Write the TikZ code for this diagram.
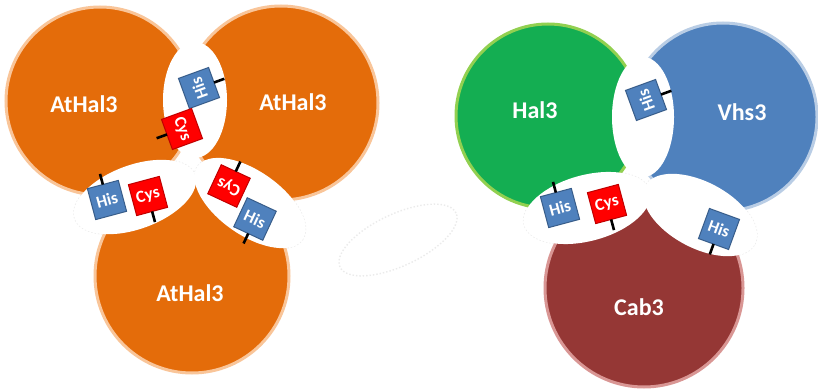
\documentclass[tikz,border=0pt]{standalone}
\usepackage{fontspec}
\setmainfont{Carlito}
\definecolor{orangefill}{HTML}{E46C0A}
\definecolor{orangeline}{HTML}{F9C599}
\definecolor{greenfill}{HTML}{14AE52}
\definecolor{greenline}{HTML}{92D050}
\definecolor{bluefill}{HTML}{4F81BD}
\definecolor{blueline}{HTML}{B9CDE5}
\definecolor{redfill}{HTML}{953735}
\definecolor{redline}{HTML}{D99694}
\definecolor{hisline}{HTML}{385D8A}
\definecolor{cysfill}{HTML}{FF0000}
\definecolor{cysline}{HTML}{C00000}
\tikzset{
  subunit/.style={line width=3pt},
  pocket/.style={fill=white, draw=none},
  pocketrim/.style={draw=black!8, dotted, line width=1.4pt},
  unitlabel/.style={text=white, font=\fontsize{24}{24}\selectfont\bfseries},
  resbox/.style={minimum size=32pt, inner sep=0pt, line width=1pt,
    text=white, font=\fontsize{17}{17}\selectfont\bfseries},
  hisbox/.style={resbox, fill=bluefill, draw=hisline},
  cysbox/.style={resbox, fill=cysfill, draw=cysline},
  stub/.style={line width=2.6pt, black}
}
\begin{document}
\begin{tikzpicture}[x=1pt, y=1pt]
\useasboundingbox[fill=white] (0,0) rectangle (818,388);

% faint rims of the pockets, seen only where they leave the subunits
\draw[pocketrim] (135,191) ellipse[x radius=64, y radius=32, rotate=20];
\draw[pocketrim] (250,185) ellipse[x radius=64, y radius=32, rotate=-35];
\draw[pocketrim] (587,180) ellipse[x radius=65, y radius=33, rotate=15];
\draw[pocketrim] (700,173) ellipse[x radius=62, y radius=33, rotate=-28];
\draw[pocketrim] (398,148) ellipse[x radius=64, y radius=26, rotate=25];

% AtHal3 homotrimer
\draw[subunit, fill=orangefill, draw=orangeline] (100,287) circle[radius=94];
\draw[subunit, fill=orangefill, draw=orangeline] (281,285) circle[radius=97];
\draw[subunit, fill=orangefill, draw=orangeline] (192,112) circle[radius=97];

% Hal3 / Vhs3 / Cab3 heterotrimer
\draw[subunit, fill=greenfill, draw=greenline] (548,272) circle[radius=92];
\draw[subunit, fill=bluefill, draw=blueline] (723,271) circle[radius=94];
\draw[subunit, fill=redfill, draw=redline] (644,100) circle[radius=99];

% interface pockets
\fill[pocket] (195,288) ellipse[x radius=32, y radius=58];
\fill[pocket] (135,191) ellipse[x radius=64, y radius=32, rotate=20];
\fill[pocket] (250,185) ellipse[x radius=64, y radius=32, rotate=-35];
\fill[pocket] (643,271) ellipse[x radius=31, y radius=60];
\fill[pocket] (587,180) ellipse[x radius=65, y radius=33, rotate=15];
\fill[pocket] (700,173) ellipse[x radius=62, y radius=33, rotate=-28];

% subunit names
\node[unitlabel] (n1) at (84,284) {AtHal3};
\node[unitlabel] (n2) at (293,286) {AtHal3};
\node[unitlabel] (n3) at (190,95) {AtHal3};
\node[unitlabel] (n4) at (535,278) {Hal3};
\node[unitlabel] (n5) at (742,276) {Vhs3};
\node[unitlabel] (n6) at (639,81) {Cab3};

% active-site residues
\node[hisbox, rotate=110] (h1) at (199,300) {His};
\node[cysbox, rotate=-70] (c1) at (182,259) {Cys};
\node[hisbox, rotate=15]  (h2) at (107,188) {His};
\node[cysbox, rotate=15]  (c2) at (148,192) {Cys};
\node[cysbox, rotate=155] (c3) at (229,202) {Cys};
\node[hisbox, rotate=-25] (h3) at (255,169) {His};

\node[hisbox, rotate=110] (h4) at (646,288) {His};
\node[hisbox, rotate=15]  (h5) at (560,180) {His};
\node[cysbox, rotate=15]  (c5) at (607,184) {Cys};
\node[hisbox, rotate=-20] (h6) at (719,159) {His};

% side-chain stubs
\foreach \n/\a in {h1/20, c1/200, h2/105, c2/-75, c3/65, h3/-115,
                   h4/20, h5/105, c5/-75, h6/-110}
  \draw[stub] ([shift={(\a:16)}]\n.center) -- ([shift={(\a:27)}]\n.center);
\end{tikzpicture}
\end{document}
